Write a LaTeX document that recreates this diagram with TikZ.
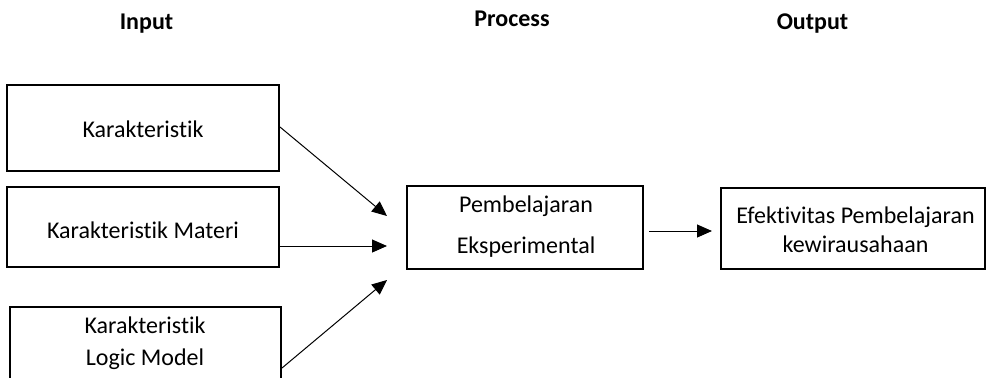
\documentclass[tikz,border=0pt]{standalone}
\usepackage{fontspec}
\setmainfont{Carlito}[RawFeature={-liga;-clig;-dlig}]
\usetikzlibrary{arrows.meta}
\begin{document}
\begin{tikzpicture}[x=0.5pt,y=-0.5pt,
  box/.style={draw=black,line width=1pt,rectangle,inner sep=0pt},
  txt/.style={inner sep=0pt,anchor=base,font=\fontsize{12pt}{14pt}\selectfont},
  head/.style={inner sep=0pt,anchor=base,font=\fontsize{12pt}{14pt}\selectfont\bfseries},
  arr/.style={draw=black,line width=0.5pt,-{Triangle[length=7.5pt,width=6.5pt]}}]
\clip (0,0) rectangle (987,377);
\fill[white] (0,0) rectangle (987,377);
% headings
\node[head] (hin) at (146.5,29) {Input};
\node[head] (hpr) at (512,26) {Process};
\node[head] (hout) at (812.5,29) {Output};
% boxes
\node[box,minimum width=136pt,minimum height=43pt] (b1) at (143,128) {};
\node[box,minimum width=136pt,minimum height=40pt] (b2) at (143,227) {};
\node[box,minimum width=135.5pt,minimum height=46.5pt] (b3) at (145.5,353.5) {};
\node[box,minimum width=118pt,minimum height=41.5pt] (p) at (525,227.5) {};
\node[box,minimum width=132pt,minimum height=40.5pt] (o) at (853,228.5) {};
% texts
\node[txt] (b1t) at (143,137) {Karakteristik};
\node[txt] (b2t) at (143,238) {Karakteristik Materi};
\node[txt] (b3t1) at (145,333) {Karakteristik};
\node[txt] (b3t2) at (145,365) {Logic Model};
\node[txt] (pt1) at (526,212) {Pembelajaran};
\node[txt] (pt2) at (526,253) {Eksperimental};
\node[txt] (ot1) at (855.5,223) {Efektivitas Pembelajaran};
\node[txt] (ot2) at (855.5,252) {kewirausahaan};
% connector ends
\coordinate (t1) at (387,216);
\coordinate (t2) at (387,246);
\coordinate (t3) at (387,280);
\coordinate (s3) at (281,368);
\coordinate (s4) at (649,231);
\coordinate (t4) at (712,231);
% arrows
\draw[arr] (b1.east |- 0,127) -- (t1);
\draw[arr] (b2.east |- t2) -- (t2);
\draw[arr] (b3.east |- s3) -- (t3);
\draw[arr] (s4) -- (t4);
\end{tikzpicture}
\end{document}
